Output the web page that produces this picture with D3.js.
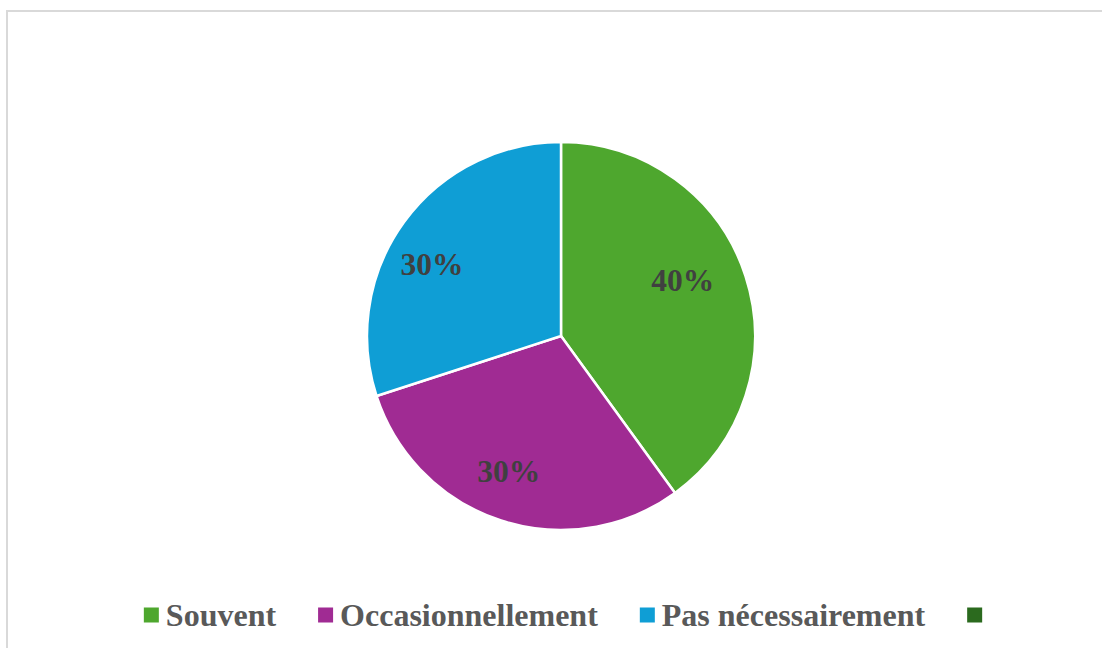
<!DOCTYPE html>
<html>
<head>
<meta charset="utf-8">
<script src="https://cdn.jsdelivr.net/npm/d3@7"></script>
<style>
  body { margin: 0; background: #fff; }
  svg { display: block; }
</style>
</head>
<body>
<div id="chart"></div>
<script>
var categories = ["Souvent", "Occasionnellement", "Pas nécessairement", ""];
var values = [40, 30, 30, 0];
var colors = ["#4EA72E", "#A02B93", "#0F9ED5", "#2B6A1E"];

var width = 1102,
    height = 648,
    center = {x: 561, y: 336},
    radius = 194,
    fontFamily = "'Liberation Serif', 'Times New Roman', serif";

// small nudges so the labels sit where Excel's best-fit put them
var labelNudge = [[-11, -13], [-9, 2], [-16, 10], [0, 0]];

var data = categories.map(function(c, i) {
  return {name: c, value: values[i], color: colors[i], nudge: labelNudge[i]};
});

var svg = d3.select("#chart").append("svg")
  .attr("width", width)
  .attr("height", height);

// chart area border
svg.append("rect")
  .attr("x", 7)
  .attr("y", 11)
  .attr("width", width + 20)
  .attr("height", height + 20)
  .attr("fill", "#fff")
  .attr("stroke", "#d9d9d9")
  .attr("stroke-width", 2);

var pie = d3.pie()
  .sort(null)
  .value(function(d) { return d.value; });

var arc = d3.arc()
  .innerRadius(0)
  .outerRadius(radius);

var labelArc = d3.arc()
  .innerRadius(radius * 0.72)
  .outerRadius(radius * 0.72);

var total = d3.sum(values);
var arcs = pie(data).filter(function(d) { return d.data.value > 0; });

var g = svg.append("g")
  .attr("transform", "translate(" + center.x + "," + center.y + ")");

g.selectAll("path")
  .data(arcs)
  .enter().append("path")
  .attr("d", arc)
  .attr("fill", function(d) { return d.data.color; })
  .attr("stroke", "#fff")
  .attr("stroke-width", 2.5)
  .attr("stroke-linejoin", "round");

g.selectAll("text.label")
  .data(arcs)
  .enter().append("text")
  .attr("class", "label")
  .attr("transform", function(d) {
    var c = labelArc.centroid(d);
    return "translate(" + (c[0] + d.data.nudge[0]) + "," + (c[1] + d.data.nudge[1]) + ")";
  })
  .attr("text-anchor", "middle")
  .attr("dy", "0.35em")
  .attr("font-family", fontFamily)
  .attr("font-weight", "bold")
  .attr("font-size", 31.5)
  .attr("fill", "#404040")
  .text(function(d) { return Math.round(d.data.value / total * 100) + "%"; });

// legend
var swatch = 15, swatchGap = 7, itemGap = 42, legendY = 615;
var legend = svg.append("g");
var items = legend.selectAll("g.item")
  .data(data)
  .enter().append("g")
  .attr("class", "item");

items.append("rect")
  .attr("width", swatch)
  .attr("height", swatch)
  .attr("y", legendY - swatch / 2)
  .attr("fill", function(d) { return d.color; });

items.append("text")
  .attr("x", swatch + swatchGap)
  .attr("y", legendY)
  .attr("dy", "0.35em")
  .attr("font-family", fontFamily)
  .attr("font-weight", "bold")
  .attr("font-size", 32)
  .attr("fill", "#595959")
  .text(function(d) { return d.name; });

var widths = [];
items.each(function() {
  var t = d3.select(this).select("text").node();
  var w = t.getComputedTextLength();
  widths.push(swatch + (w > 0 ? swatchGap + w : 0));
});
var totalW = d3.sum(widths) + itemGap * (widths.length - 1);
var x0 = center.x + 2 - totalW / 2;
items.attr("transform", function(d, i) {
  var x = x0 + d3.sum(widths.slice(0, i)) + itemGap * i;
  return "translate(" + x + ",0)";
});
</script>
</body>
</html>
